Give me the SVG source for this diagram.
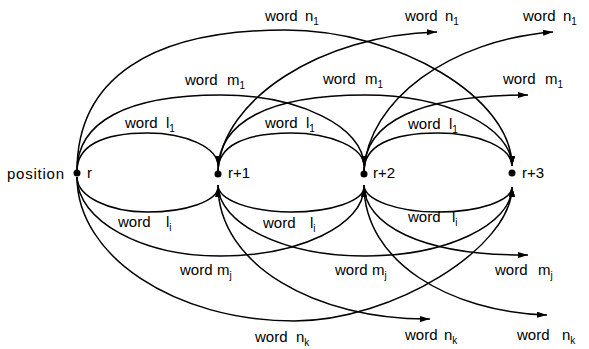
<svg xmlns="http://www.w3.org/2000/svg" width="589" height="349" viewBox="0 0 589 349">
<style>
.c{fill:none;stroke:#000;stroke-width:1.5;marker-end:url(#ah)}
text{font-family:"Liberation Sans",Arial,sans-serif;font-size:15px;fill:#000}
.s{font-size:10px}
.dot{fill:#000}
</style>
<defs>
<marker id="ah" viewBox="0 0 10 6" refX="10" refY="3" markerWidth="10" markerHeight="6" markerUnits="userSpaceOnUse" orient="auto">
<path d="M0,0 L10,3 L0,6 z" fill="#000"/>
</marker>
</defs>
<rect width="589" height="349" fill="#fff"/>
<g id="connectors">
<path class="c" d="M77,171 C77,146.3 101.7,133 147.5,133 C186.3,133 218,147.8 218,166"/>
<path class="c" d="M218,171 C218,146.3 243.5,133 291,133 C331.2,133 364,147.8 364,166"/>
<path class="c" d="M364,171 C364,146.3 389.9,133 438,133 C478.7,133 512,147.8 512,166"/>
<path class="c" d="M77,171 C77,121.6 127.2,95 220.5,95 C299.4,95 364,126.9 364,166"/>
<path class="c" d="M218,171 C218,121.6 269.4,95 365,95 C445.9,95 512,126.9 512,166"/>
<path class="c" d="M364,171 C364,121.6 420,95 528,95"/>
<path class="c" d="M77,171 C77,79.3 149.8,30 285,30 C398.5,30 512,98 512,166"/>
<path class="c" d="M218,171 C222,100 320,35 437,32"/>
<path class="c" d="M364,171 C368,100 450,40 553,32"/>
<path class="c" d="M77,177 C77,196.3 108.7,212 147.5,212 C186.3,212 218,200.8 218,187"/>
<path class="c" d="M218,185 C218,199.9 250.8,212 291,212 C331.2,212 364,200.8 364,187"/>
<path class="c" d="M364,185 C364,199.9 397.3,212 438,212 C478.7,212 512,200.8 512,187"/>
<path class="c" d="M77,177 C77,220.5 141.6,256 220.5,256 C299.4,256 364,225 364,187"/>
<path class="c" d="M218,185 C218,224 284.1,256 365,256 C445.9,256 512,225 512,187"/>
<path class="c" d="M364,185 C364,224 420,256 528,255"/>
<path class="c" d="M77,177 C77,256.2 174.9,321 294.5,321 C392.4,321 512,247.3 512,187"/>
<path class="c" d="M218,185 C218,265 316,320 430,319"/>
<path class="c" d="M364,185 C364,262 450,312 547,315"/>
</g>
<g id="labels">
<text x="265" y="21">word<tspan x="305">n</tspan><tspan class="s" dy="4">1</tspan></text>
<text x="405" y="21">word<tspan x="445">n</tspan><tspan class="s" dy="4">1</tspan></text>
<text x="523" y="21">word<tspan x="563">n</tspan><tspan class="s" dy="4">1</tspan></text>
<text x="185" y="85">word<tspan x="227">m</tspan><tspan class="s" dy="4">1</tspan></text>
<text x="323" y="84">word<tspan x="365">m</tspan><tspan class="s" dy="4">1</tspan></text>
<text x="503" y="84">word<tspan x="545">m</tspan><tspan class="s" dy="4">1</tspan></text>
<text x="125" y="128">word<tspan x="166">l</tspan><tspan class="s" dy="4">1</tspan></text>
<text x="265" y="128">word<tspan x="306">l</tspan><tspan class="s" dy="4">1</tspan></text>
<text x="408" y="129">word<tspan x="449">l</tspan><tspan class="s" dy="4">1</tspan></text>
<text x="118" y="227">word<tspan x="166">l</tspan><tspan class="s" dy="4">i</tspan></text>
<text x="263" y="228">word<tspan x="310">l</tspan><tspan class="s" dy="4">i</tspan></text>
<text x="408" y="222">word<tspan x="452">l</tspan><tspan class="s" dy="4">i</tspan></text>
<text x="180" y="275">word<tspan x="217">m</tspan><tspan class="s" dy="4">j</tspan></text>
<text x="335" y="275">word<tspan x="372">m</tspan><tspan class="s" dy="4">j</tspan></text>
<text x="495" y="275">word<tspan x="538">m</tspan><tspan class="s" dy="4">j</tspan></text>
<text x="255" y="342">word<tspan x="296">n</tspan><tspan class="s" dy="4">k</tspan></text>
<text x="405" y="340">word<tspan x="444">n</tspan><tspan class="s" dy="4">k</tspan></text>
<text x="517" y="340">word<tspan x="562">n</tspan><tspan class="s" dy="4">k</tspan></text>
</g>
<g id="node-r">
<circle class="dot" cx="77" cy="173" r="3.5"/>
<text x="7" y="179" textLength="57" lengthAdjust="spacing">position</text>
<text x="87" y="178">r</text>
</g>
<g id="node-r1">
<circle class="dot" cx="218" cy="174" r="3.5"/>
<text x="228" y="178">r+1</text>
</g>
<g id="node-r2">
<circle class="dot" cx="364" cy="174" r="3.5"/>
<text x="373" y="178">r+2</text>
</g>
<g id="node-r3">
<circle class="dot" cx="512" cy="173" r="3.5"/>
<text x="522" y="178">r+3</text>
</g>
</svg>
